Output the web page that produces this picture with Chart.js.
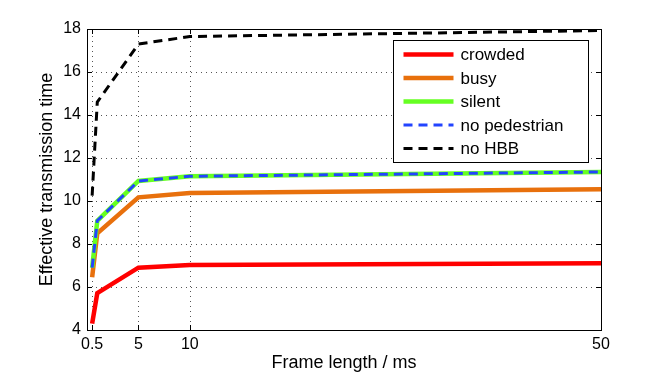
<!DOCTYPE html>
<html>
<head>
<meta charset="utf-8">
<script src="https://cdn.jsdelivr.net/npm/chart.js@4/dist/chart.umd.min.js"></script>
<style>
  html, body { margin: 0; padding: 0; background: #fff; }
  #wrap { width: 664px; height: 377px; }
</style>
</head>
<body>
<div id="wrap"><canvas id="frameChart" width="664" height="377"></canvas></div>
<script>
// frame length (ms) on x
const frameLengths = [0.5, 1, 5, 10, 50];
const xTicks = [0.5, 5, 10, 50];
const yTicks = [4, 6, 8, 10, 12, 14, 16, 18];

const crowded = [4.3, 5.72, 6.9, 7.02, 7.1];
const busy = [6.45, 8.5, 10.17, 10.37, 10.55];
const silent = [6.9, 9.08, 10.93, 11.15, 11.35];
const noPedestrian = [6.9, 9.08, 10.93, 11.15, 11.35];
const noHBB = [10.25, 14.6, 17.3, 17.65, 17.93];

const seriesNames = ['crowded', 'busy', 'silent', 'no pedestrian', 'no HBB'];

const FONT = "'Liberation Sans', Arial, Helvetica, sans-serif";
Chart.defaults.font.family = FONT;
Chart.defaults.font.size = 16;
Chart.defaults.color = '#000';

function pts(ys) {
  return frameLengths.map((x, i) => ({ x: x, y: ys[i] }));
}

function line(label, ys, color, dashed, order) {
  return {
    label: label,
    data: pts(ys),
    borderColor: color,
    backgroundColor: color,
    borderWidth: dashed ? 3 : 4.5,
    borderDash: dashed ? [9, 6] : [],
    pointRadius: 0,
    tension: 0,
    fill: false,
    order: order
  };
}

// dotted grid behind the lines
const gridPlugin = {
  id: 'dotGrid',
  beforeDatasetsDraw(chart) {
    const { ctx, chartArea: a, scales } = chart;
    ctx.save();
    ctx.fillStyle = '#555';
    yTicks.forEach(v => {
      const y = Math.round(scales.y.getPixelForValue(v));
      for (let x = Math.round(a.left) + 4; x < a.right - 2; x += 5) {
        ctx.fillRect(x, y, 1, 1);
      }
    });
    xTicks.forEach(v => {
      const x = Math.round(scales.x.getPixelForValue(v));
      for (let y = Math.round(a.bottom) - 4; y > a.top + 2; y -= 5) {
        ctx.fillRect(x, y, 1, 1);
      }
    });
    ctx.restore();
  }
};

// box around the plot with inward ticks, like the original figure
const boxPlugin = {
  id: 'box',
  afterDatasetsDraw(chart) {
    const { ctx, chartArea: a, scales } = chart;
    ctx.save();
    ctx.fillStyle = '#000';
    const tl = 5;
    yTicks.forEach(v => {
      const y = Math.round(scales.y.getPixelForValue(v));
      ctx.fillRect(Math.round(a.left), y, tl, 1);
      ctx.fillRect(Math.round(a.right) - tl, y, tl, 1);
    });
    xTicks.forEach(v => {
      const x = Math.round(scales.x.getPixelForValue(v));
      ctx.fillRect(x, Math.round(a.bottom) - tl, 1, tl);
      ctx.fillRect(x, Math.round(a.top), 1, tl);
    });
    ctx.strokeStyle = '#000';
    ctx.lineWidth = 1;
    ctx.setLineDash([]);
    ctx.strokeRect(Math.round(a.left) + 0.5, Math.round(a.top) + 0.5,
      Math.round(a.right - a.left), Math.round(a.bottom - a.top));
    ctx.restore();
  }
};

const legendPlugin = {
  id: 'boxLegend',
  afterDraw(chart) {
    const { ctx, chartArea: a } = chart;
    const w = 195, h = 122;
    const x0 = Math.round(a.right - 13 - w) + 0.5;
    const y0 = Math.round(a.top + 11) + 0.5;
    ctx.save();
    ctx.fillStyle = '#fff';
    ctx.fillRect(x0, y0, w, h);
    ctx.strokeStyle = '#000';
    ctx.lineWidth = 1;
    ctx.setLineDash([]);
    ctx.strokeRect(x0, y0, w, h);
    ctx.font = '17px ' + FONT;
    ctx.textBaseline = 'middle';
    ctx.fillStyle = '#000';
    chart.data.datasets.forEach((ds, i) => {
      const y = y0 + 14 + i * 23.5;
      ctx.beginPath();
      ctx.strokeStyle = ds.borderColor;
      ctx.lineWidth = ds.borderWidth;
      ctx.setLineDash(ds.borderDash);
      ctx.moveTo(x0 + 10, y);
      ctx.lineTo(x0 + 60, y);
      ctx.stroke();
      ctx.setLineDash([]);
      ctx.fillText(ds.label, x0 + 67, y + 1);
    });
    ctx.restore();
  }
};

const ctx = document.getElementById('frameChart').getContext('2d');
new Chart(ctx, {
  type: 'line',
  data: {
    datasets: [
      line(seriesNames[0], crowded, '#ff0000', false, 5),
      line(seriesNames[1], busy, '#e8700c', false, 4),
      line(seriesNames[2], silent, '#66ff22', false, 3),
      line(seriesNames[3], noPedestrian, '#2244ff', true, 2),
      line(seriesNames[4], noHBB, '#000000', true, 1)
    ]
  },
  options: {
    responsive: false,
    animation: false,
    layout: { padding: { top: 29, right: 63, left: 0, bottom: 0 } },
    plugins: {
      legend: { display: false },
      tooltip: { enabled: false }
    },
    scales: {
      x: {
        type: 'linear',
        min: 0,
        max: 50,
        afterBuildTicks(scale) {
          scale.ticks = xTicks.map(v => ({ value: v }));
        },
        afterFit(scale) { scale.height = 47; },
        ticks: {
          padding: 5,
          maxRotation: 0,
          autoSkip: false,
          font: { size: 16 },
          callback: v => String(v)
        },
        grid: { display: false, drawTicks: false },
        border: { display: false },
        title: {
          display: true,
          text: 'Frame length / ms',
          font: { size: 18 },
          padding: { top: 0, bottom: 3 }
        }
      },
      y: {
        min: 4,
        max: 18,
        afterFit(scale) { scale.width = 87; },
        ticks: {
          stepSize: 2,
          padding: 6,
          font: { size: 16 }
        },
        grid: { display: false, drawTicks: false },
        border: { display: false },
        title: {
          display: true,
          text: 'Effective transmission time',
          font: { size: 18 },
          padding: { top: 36, bottom: 0 }
        }
      }
    }
  },
  plugins: [gridPlugin, boxPlugin, legendPlugin]
});
</script>
</body>
</html>
